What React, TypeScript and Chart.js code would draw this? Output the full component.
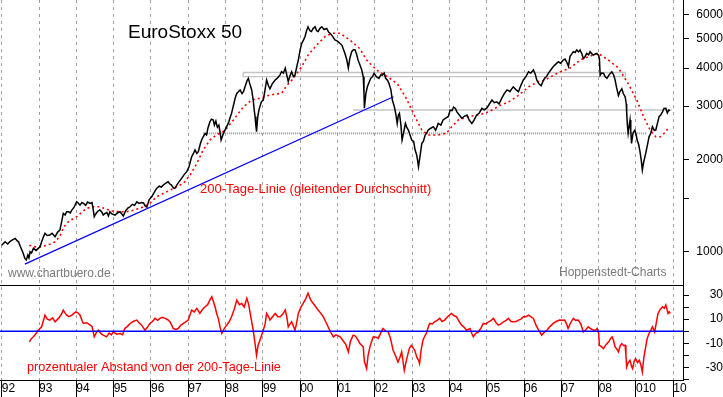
import React, { useEffect, useRef } from 'react';
import { Chart, registerables } from 'chart.js';

Chart.register(...registerables);

// ---------- data (x = decimal year) ----------
const PRICE: [number, number][] = [
  [1992.00, 1050], [1992.09, 1078], [1992.16, 1060], [1992.22, 1080], [1992.30, 1095], [1992.36, 1106],
  [1992.42, 1085], [1992.45, 1078], [1992.50, 1040], [1992.54, 1013], [1992.58, 985], [1992.62, 951],
  [1992.66, 940], [1992.70, 975], [1992.73, 955], [1992.76, 1000], [1992.80, 990], [1992.85, 1026],
  [1992.92, 1010], [1992.98, 1026], [1993.03, 1040], [1993.07, 1078], [1993.12, 1120], [1993.16, 1149],
  [1993.22, 1130], [1993.29, 1134], [1993.35, 1150], [1993.43, 1120], [1993.50, 1160], [1993.56, 1178],
  [1993.62, 1280], [1993.65, 1336], [1993.70, 1320], [1993.74, 1352], [1993.79, 1352], [1993.84, 1340],
  [1993.88, 1370], [1993.94, 1400], [1994.01, 1458], [1994.06, 1440], [1994.10, 1422], [1994.15, 1450],
  [1994.19, 1440], [1994.25, 1420], [1994.30, 1455], [1994.37, 1440], [1994.42, 1450], [1994.45, 1380],
  [1994.48, 1303], [1994.52, 1330], [1994.58, 1360], [1994.63, 1370], [1994.68, 1350], [1994.72, 1320],
  [1994.77, 1336], [1994.82, 1345], [1994.86, 1310], [1994.90, 1352], [1994.95, 1330], [1995.04, 1319],
  [1995.10, 1340], [1995.17, 1352], [1995.22, 1330], [1995.26, 1310], [1995.32, 1360], [1995.38, 1390],
  [1995.44, 1404], [1995.50, 1430], [1995.56, 1420], [1995.62, 1458], [1995.68, 1440], [1995.75, 1450],
  [1995.80, 1445], [1995.85, 1410], [1995.89, 1400], [1995.95, 1480], [1996.02, 1514], [1996.08, 1560],
  [1996.15, 1613], [1996.22, 1640], [1996.28, 1630], [1996.33, 1654], [1996.40, 1680], [1996.46, 1696],
  [1996.50, 1670], [1996.55, 1654], [1996.60, 1620], [1996.64, 1613], [1996.70, 1660], [1996.76, 1700],
  [1996.82, 1740], [1996.89, 1790], [1996.96, 1830], [1997.02, 1900], [1997.09, 2048], [1997.14, 2100],
  [1997.18, 2155], [1997.23, 2100], [1997.27, 2127], [1997.32, 2250], [1997.36, 2330], [1997.40, 2381],
  [1997.45, 2440], [1997.49, 2413], [1997.53, 2550], [1997.58, 2668], [1997.62, 2720], [1997.67, 2703],
  [1997.70, 2600], [1997.74, 2680], [1997.78, 2560], [1997.82, 2600], [1997.85, 2474], [1997.88, 2324],
  [1997.93, 2420], [1997.98, 2500], [1998.03, 2570], [1998.08, 2650], [1998.12, 2750], [1998.16, 2841],
  [1998.22, 3050], [1998.26, 3200], [1998.30, 3304], [1998.35, 3350], [1998.39, 3390], [1998.44, 3300],
  [1998.48, 3347], [1998.53, 3500], [1998.58, 3650], [1998.61, 3702], [1998.65, 3550], [1998.70, 3390],
  [1998.74, 3143], [1998.77, 2900], [1998.79, 2776], [1998.81, 2600], [1998.83, 2474], [1998.86, 2750],
  [1998.89, 2900], [1998.92, 2990], [1998.96, 3100], [1999.01, 3143], [1999.05, 3350], [1999.10, 3656],
  [1999.15, 3500], [1999.19, 3420], [1999.25, 3550], [1999.33, 3656], [1999.38, 3700], [1999.42, 3745],
  [1999.46, 3800], [1999.50, 3890], [1999.55, 3850], [1999.60, 4000], [1999.64, 3800], [1999.68, 3612],
  [1999.73, 3780], [1999.77, 3890], [1999.82, 3750], [1999.86, 3790], [1999.90, 4000], [1999.95, 4251],
  [2000.00, 4600], [2000.04, 4817], [2000.09, 4950], [2000.13, 5078], [2000.17, 5300], [2000.21, 5460],
  [2000.26, 5300], [2000.30, 5267], [2000.35, 5400], [2000.40, 5460], [2000.44, 5300], [2000.48, 5267],
  [2000.53, 5400], [2000.58, 5460], [2000.64, 5350], [2000.71, 5394], [2000.76, 5250], [2000.80, 5200],
  [2000.86, 5100], [2000.93, 4944], [2001.00, 4900], [2001.07, 4817], [2001.12, 4750], [2001.16, 4600],
  [2001.20, 4467], [2001.25, 4250], [2001.29, 4000], [2001.33, 4300], [2001.38, 4527], [2001.43, 4600],
  [2001.47, 4585], [2001.51, 4450], [2001.55, 4251], [2001.60, 4100], [2001.65, 3942], [2001.69, 3745],
  [2001.71, 3300], [2001.72, 2953], [2001.76, 3300], [2001.80, 3472], [2001.85, 3600], [2001.89, 3702],
  [2001.94, 3750], [2001.98, 3845], [2002.04, 3750], [2002.11, 3702], [2002.16, 3800], [2002.20, 3790],
  [2002.25, 3850], [2002.29, 3702], [2002.34, 3650], [2002.38, 3557], [2002.43, 3400], [2002.47, 3143],
  [2002.52, 3000], [2002.56, 2841], [2002.60, 2633], [2002.63, 2800], [2002.66, 2841], [2002.70, 2600],
  [2002.73, 2324], [2002.77, 2450], [2002.82, 2633], [2002.86, 2550], [2002.90, 2506], [2002.95, 2400],
  [2002.99, 2324], [2003.04, 2300], [2003.08, 2155], [2003.12, 2080], [2003.15, 1980], [2003.17, 1900],
  [2003.21, 2050], [2003.26, 2265], [2003.30, 2300], [2003.35, 2414], [2003.39, 2450], [2003.43, 2506],
  [2003.50, 2540], [2003.57, 2570], [2003.63, 2500], [2003.70, 2633], [2003.77, 2600], [2003.83, 2703],
  [2003.90, 2740], [2003.97, 2776], [2004.02, 2915], [2004.07, 2900], [2004.11, 2980], [2004.16, 2950],
  [2004.20, 2874], [2004.27, 2800], [2004.33, 2739], [2004.40, 2780], [2004.47, 2807], [2004.53, 2700],
  [2004.60, 2633], [2004.66, 2700], [2004.73, 2807], [2004.80, 2850], [2004.87, 2953], [2004.93, 2920],
  [2005.00, 2953], [2005.07, 3050], [2005.14, 3143], [2005.20, 3080], [2005.27, 3100], [2005.33, 3050],
  [2005.40, 3183], [2005.47, 3300], [2005.54, 3390], [2005.58, 3380], [2005.62, 3347], [2005.67, 3420],
  [2005.71, 3472], [2005.78, 3400], [2005.85, 3347], [2005.91, 3500], [2005.98, 3656], [2006.05, 3750],
  [2006.12, 3890], [2006.18, 3850], [2006.25, 3942], [2006.30, 3820], [2006.34, 3656], [2006.40, 3550],
  [2006.46, 3500], [2006.50, 3600], [2006.55, 3702], [2006.60, 3750], [2006.65, 3845], [2006.72, 3950],
  [2006.78, 4040], [2006.85, 4120], [2006.92, 4195], [2006.98, 4150], [2007.05, 4251], [2007.10, 4280],
  [2007.14, 4195], [2007.19, 4050], [2007.23, 4360], [2007.28, 4450], [2007.32, 4527], [2007.37, 4500],
  [2007.41, 4585], [2007.46, 4520], [2007.50, 4585], [2007.55, 4450], [2007.59, 4300], [2007.63, 4350],
  [2007.68, 4467], [2007.73, 4420], [2007.77, 4527], [2007.82, 4450], [2007.86, 4410], [2007.91, 4450],
  [2007.95, 4467], [2008.00, 4400], [2008.02, 4300], [2008.04, 3790], [2008.08, 3850], [2008.13, 3845],
  [2008.17, 3750], [2008.22, 3702], [2008.28, 3800], [2008.35, 3890], [2008.40, 3800], [2008.44, 3656],
  [2008.48, 3450], [2008.53, 3253], [2008.57, 3350], [2008.62, 3420], [2008.66, 3300], [2008.71, 3221],
  [2008.74, 3050], [2008.75, 2874], [2008.77, 2600], [2008.79, 2447], [2008.82, 2600], [2008.84, 2703],
  [2008.86, 2500], [2008.88, 2265], [2008.92, 2450], [2008.97, 2506], [2009.01, 2400], [2009.03, 2324],
  [2009.07, 2250], [2009.10, 2155], [2009.14, 2000], [2009.17, 1853], [2009.20, 1950], [2009.26, 2100],
  [2009.31, 2250], [2009.35, 2381], [2009.40, 2450], [2009.44, 2570], [2009.49, 2500], [2009.53, 2506],
  [2009.58, 2650], [2009.62, 2776], [2009.66, 2800], [2009.71, 2874], [2009.75, 2950], [2009.80, 2953],
  [2009.84, 2850], [2009.88, 2915], [2009.91, 2900],
];

const MA200: [number, number][] = [
  [1992.74, 1051], [1992.85, 1040], [1993.00, 1035], [1993.15, 1045], [1993.30, 1060], [1993.43, 1078],
  [1993.55, 1120], [1993.67, 1208], [1993.80, 1260], [1994.01, 1303], [1994.15, 1350], [1994.28, 1388],
  [1994.45, 1404], [1994.63, 1404], [1994.80, 1380], [1994.95, 1360], [1995.17, 1352], [1995.35, 1352],
  [1995.55, 1370], [1995.70, 1388], [1995.89, 1420], [1996.02, 1460], [1996.15, 1514], [1996.42, 1572],
  [1996.60, 1613], [1996.87, 1676], [1997.05, 1784], [1997.23, 1948], [1997.40, 2155], [1997.58, 2324],
  [1997.76, 2420], [1997.93, 2474], [1998.03, 2540], [1998.21, 2703], [1998.48, 2990], [1998.70, 3143],
  [1998.92, 3183], [1999.15, 3253], [1999.35, 3290], [1999.50, 3304], [1999.64, 3504], [1999.82, 3702],
  [2000.04, 4040], [2000.21, 4410], [2000.44, 4757], [2000.67, 5078], [2000.85, 5200], [2001.07, 5200],
  [2001.33, 4944], [2001.60, 4630], [2001.78, 4251], [2001.96, 4040], [2002.11, 3890], [2002.34, 3745],
  [2002.60, 3557], [2002.82, 3221], [2002.99, 2915], [2003.12, 2703], [2003.26, 2506], [2003.43, 2414],
  [2003.70, 2414], [2003.92, 2447], [2004.05, 2560], [2004.24, 2703], [2004.51, 2776], [2004.78, 2807],
  [2005.05, 2874], [2005.32, 3000], [2005.59, 3100], [2005.85, 3253], [2006.12, 3472], [2006.39, 3612],
  [2006.57, 3656], [2006.79, 3790], [2006.97, 3890], [2007.23, 4000], [2007.50, 4251], [2007.77, 4380],
  [2007.99, 4467], [2008.26, 4251], [2008.53, 4000], [2008.79, 3557], [2009.02, 3143], [2009.20, 2776],
  [2009.38, 2506], [2009.53, 2381], [2009.66, 2381], [2009.80, 2474], [2009.88, 2570],
];

const OSC: [number, number][] = [
  [1992.74, -8.9], [1992.80, -6], [1992.85, -4.7], [1992.92, -2], [1992.98, 0.8], [1993.07, 3.6],
  [1993.12, 9], [1993.16, 13.3], [1993.22, 10], [1993.29, 9.2], [1993.36, 11], [1993.43, 7.8],
  [1993.52, 10.6], [1993.60, 14], [1993.65, 17.5], [1993.70, 15], [1993.74, 13.3], [1993.80, 12],
  [1993.88, 13.3], [1993.94, 15], [1993.99, 16], [1994.05, 15], [1994.10, 13.3], [1994.15, 9],
  [1994.19, 6.4], [1994.28, 7], [1994.37, 5], [1994.42, 4], [1994.48, -4.7], [1994.54, -1],
  [1994.59, 0.8], [1994.66, -2], [1994.72, -3.3], [1994.81, -4.7], [1994.88, -1.5], [1994.94, -3],
  [1994.99, -0.6], [1995.08, -2.5], [1995.17, -1.9], [1995.24, -3], [1995.30, 2.2], [1995.37, 4],
  [1995.44, 6.4], [1995.52, 8], [1995.62, 9.2], [1995.68, 7], [1995.75, 5], [1995.84, 0.8],
  [1995.90, 3], [1995.97, 6.4], [1996.04, 8], [1996.11, 10.6], [1996.18, 9], [1996.24, 10.6],
  [1996.31, 11.5], [1996.38, 10.6], [1996.45, 9.5], [1996.51, 7.8], [1996.60, 2.2], [1996.67, 1.5],
  [1996.73, 2.2], [1996.80, 5], [1996.87, 6.4], [1996.94, 8], [1997.00, 9.2], [1997.09, 17.5],
  [1997.16, 16], [1997.23, 18.9], [1997.31, 14.7], [1997.38, 18], [1997.45, 20.3], [1997.52, 22],
  [1997.58, 26], [1997.63, 28.6], [1997.68, 24], [1997.72, 20], [1997.76, 14.7], [1997.81, 10],
  [1997.85, 3.6], [1997.90, -1.9], [1997.96, 2], [1998.03, 5], [1998.10, 8], [1998.16, 11.9],
  [1998.23, 18], [1998.30, 25.8], [1998.37, 22], [1998.43, 23], [1998.50, 20], [1998.57, 27.2],
  [1998.62, 22], [1998.66, 14.7], [1998.70, 8], [1998.74, 0.8], [1998.79, -10.3], [1998.83, -20],
  [1998.87, -12], [1998.92, -7.5], [1998.97, -3], [1999.01, 0.8], [1999.06, 6], [1999.10, 14.7],
  [1999.15, 12], [1999.19, 9.2], [1999.26, 12], [1999.33, 14.7], [1999.40, 12], [1999.46, 11.9],
  [1999.53, 14], [1999.60, 17.5], [1999.64, 12], [1999.68, 3.6], [1999.73, 6], [1999.77, 7.8],
  [1999.82, 4], [1999.86, 0.8], [1999.90, 6], [1999.95, 14.7], [2000.02, 20], [2000.08, 23],
  [2000.15, 27], [2000.21, 31.4], [2000.28, 26], [2000.35, 23], [2000.42, 20], [2000.48, 17.5],
  [2000.55, 15], [2000.62, 11.9], [2000.68, 8], [2000.75, 3.6], [2000.82, -1], [2000.89, -4.7],
  [2000.96, -3], [2001.07, -4.7], [2001.15, -8], [2001.22, -11], [2001.29, -17.2], [2001.35, -8],
  [2001.42, -3.3], [2001.48, -4], [2001.55, -7.5], [2001.60, -10.3], [2001.69, -13], [2001.72, -25],
  [2001.78, -31], [2001.82, -20], [2001.87, -13], [2001.92, -8], [2001.96, -4.7], [2002.03, -5],
  [2002.09, -6], [2002.15, -2], [2002.22, 2.2], [2002.29, 0], [2002.36, -0.6], [2002.42, -6],
  [2002.49, -15.8], [2002.55, -20], [2002.62, -25.6], [2002.67, -22], [2002.72, -17.2], [2002.76, -26],
  [2002.79, -32.5], [2002.84, -25], [2002.89, -18.6], [2002.93, -14], [2002.98, -11.7], [2003.03, -14],
  [2003.07, -15.8], [2003.13, -22], [2003.17, -24], [2003.20, -26.9], [2003.24, -16], [2003.29, -7.5],
  [2003.34, -4], [2003.38, -1.9], [2003.43, 3], [2003.47, 6.4], [2003.54, 6], [2003.60, 7.8],
  [2003.67, 9], [2003.74, 10.6], [2003.80, 8], [2003.87, 9.2], [2003.95, 12], [2004.05, 14.7],
  [2004.12, 13], [2004.19, 11.9], [2004.26, 8], [2004.33, 5], [2004.40, 3], [2004.46, 0.8],
  [2004.55, 2.2], [2004.60, -2], [2004.64, -4.7], [2004.70, -2], [2004.78, -0.6], [2004.85, 3],
  [2004.91, 6.4], [2004.98, 6], [2005.05, 7.8], [2005.12, 9], [2005.18, 10.6], [2005.25, 7],
  [2005.31, 5], [2005.38, 6], [2005.45, 7.8], [2005.52, 9], [2005.58, 10.6], [2005.65, 8],
  [2005.72, 7.8], [2005.79, 8], [2005.85, 9.2], [2005.92, 10], [2005.98, 11.9], [2006.05, 12],
  [2006.12, 13.3], [2006.18, 12], [2006.25, 10.6], [2006.32, 5], [2006.39, 0.8], [2006.43, -1],
  [2006.47, -3.3], [2006.54, -1], [2006.61, 0.8], [2006.70, 4], [2006.78, 6.4], [2006.86, 8],
  [2006.95, 9.2], [2007.02, 9], [2007.09, 9.2], [2007.14, 6], [2007.18, 2.2], [2007.25, 7],
  [2007.32, 10.6], [2007.38, 9], [2007.45, 9.2], [2007.52, 6], [2007.59, -0.6], [2007.65, 1],
  [2007.72, 3.6], [2007.79, 2], [2007.86, 0.8], [2007.92, 1], [2007.96, 2.2], [2008.00, -2],
  [2008.02, -11.7], [2008.08, -13], [2008.13, -14.4], [2008.20, -11], [2008.27, -8.9], [2008.32, -6],
  [2008.36, -4.7], [2008.40, -8], [2008.44, -13], [2008.49, -15], [2008.53, -17.2], [2008.58, -12],
  [2008.62, -10.3], [2008.67, -12], [2008.71, -11.7], [2008.73, -20], [2008.75, -29.7], [2008.79, -26],
  [2008.84, -24.2], [2008.88, -29], [2008.91, -31], [2008.95, -25], [2008.99, -22.8], [2009.04, -26],
  [2009.09, -24.2], [2009.13, -28], [2009.17, -33.9], [2009.21, -22], [2009.26, -13], [2009.30, -6],
  [2009.35, -1.9], [2009.40, 1], [2009.44, 3.6], [2009.50, -0.6], [2009.55, 8], [2009.59, 14.7],
  [2009.65, 18], [2009.71, 20.3], [2009.76, 19], [2009.80, 21.7], [2009.84, 17], [2009.86, 14.7],
  [2009.89, 16], [2009.92, 14.7],
];

const TREND_LINE: [number, number][] = [[1992.62, 911], [2002.50, 3221]];
const RESISTANCE_BAND: [number, number][] = [
  [1998.47, 3868], [2008.72, 3868], [2008.72, 3751], [1998.47, 3751], [1998.47, 3868],
];
const LEVEL_MID: [number, number][] = [[2001.42, 2915], [2009.96, 2915]];
const LEVEL_LOW: [number, number][] = [[1997.40, 2444], [2009.29, 2444]];
const ZERO_LINE: [number, number][] = [[1991.95, 0], [2010.26, 0]];

const X_RANGE = [1991.954, 2010.26];
const YEAR_TICKS = [1992, 1993, 1994, 1995, 1996, 1997, 1998, 1999, 2000, 2001,
  2002, 2003, 2004, 2005, 2006, 2007, 2008, 2009, 2010];
const YEAR_LABELS = ['92', '93', '94', '95', '96', '97', '98', '99', '00', '01',
  '02', '03', '04', '05', '06', '07', '08', '010', '10'];

const PRICE_RANGE = [778, 6686];
const PRICE_TICKS = [1000, 1500, 2000, 3000, 4000, 5000, 6000];
const PRICE_TICK_LABELS = ['1000', '', '2000', '3000', '4000', '5000', '6000'];

const OSC_RANGE = [-40.5, 38.3];
const OSC_TICKS = [-40, -30, -20, -10, 0, 10, 20, 30];
const OSC_TICK_LABELS = ['', '-30', '', '-10', '', '10', '', '30'];

const TITLE = 'EuroStoxx 50';
const MA_NOTE = '200-Tage-Linie (gleitender Durchschnitt)';
const OSC_NOTE = 'prozentualer Abstand von der 200-Tage-Linie';
const SOURCE_LEFT = 'www.chartbuero.de';
const SOURCE_RIGHT = 'Hoppenstedt-Charts';

const FONT = 'Arial, "Liberation Sans", sans-serif';

const pts = (a: [number, number][]) => a.map(([x, y]) => ({ x, y }));
const lookup = (keys: number[], labels: string[]) => {
  const m: Record<string, string> = {};
  keys.forEach((k, i) => { m[String(k)] = labels[i]; });
  return (v: any) => m[String(v)] ?? '';
};

export default function App() {
  const ref = useRef<HTMLCanvasElement | null>(null);

  useEffect(() => {
    const canvas = ref.current;
    if (!canvas) return;
    Chart.defaults.font.family = FONT;

    const zeroPad = (s: any) => {
      s.paddingLeft = 0; s.paddingRight = 0; s.paddingTop = 0; s.paddingBottom = 0;
    };

    const overlay = {
      id: 'overlay',
      afterDraw(chart: any) {
        const { ctx, chartArea } = chart;
        const y2 = chart.scales.y2;
        ctx.save();
        ctx.strokeStyle = '#000';
        ctx.lineWidth = 1;
        ctx.setLineDash([]);
        const sy = Math.round(y2.top) + 0.5;
        ctx.beginPath();
        ctx.moveTo(chartArea.left, sy);
        ctx.lineTo(chartArea.right, sy);
        ctx.stroke();

        ctx.textAlign = 'left';
        ctx.textBaseline = 'alphabetic';
        ctx.fillStyle = '#000';
        ctx.font = `19px ${FONT}`;
        ctx.fillText(TITLE, 128, 38);

        ctx.fillStyle = '#ff0000';
        ctx.font = `13px ${FONT}`;
        ctx.fillText(MA_NOTE, 200, 193);
        ctx.font = `12.7px ${FONT}`;
        ctx.fillText(OSC_NOTE, 27, 371);

        ctx.fillStyle = '#7a7a7a';
        ctx.font = `12px ${FONT}`;
        ctx.fillText(SOURCE_LEFT, 8, 277);
        ctx.fillText(SOURCE_RIGHT, 559, 276);
        ctx.restore();
      },
    };

    const line = (data: [number, number][], color: string, width: number, axis: string, dash: number[] = []) => ({
      data: pts(data),
      yAxisID: axis,
      xAxisID: 'x',
      borderColor: color,
      backgroundColor: color,
      borderWidth: width,
      borderDash: dash,
      pointRadius: 0,
      pointHoverRadius: 0,
      tension: 0,
      fill: false,
    });

    const chart = new Chart(canvas, {
      type: 'line',
      data: {
        datasets: [
          { label: 'EuroStoxx 50', ...line(PRICE, '#000000', 1.5, 'y') },
          { label: '200-Tage-Linie', ...line(MA200, '#ff0000', 1.6, 'y', [2, 3]) },
          { label: 'Trendlinie', ...line(TREND_LINE, '#0000ff', 1.2, 'y') },
          { label: 'Widerstand', ...line(RESISTANCE_BAND, '#c4c4c4', 1.3, 'y') },
          { label: 'Marke', ...line(LEVEL_MID, '#c4c4c4', 1.3, 'y') },
          { label: 'Unterstützung', ...line(LEVEL_LOW, '#9a9a9a', 2, 'y', [1, 1]) },
          { label: 'Nulllinie', ...line(ZERO_LINE, '#0000ff', 1.5, 'y2') },
          { label: 'Abstand', ...line(OSC, '#ff0000', 1.5, 'y2') },
        ],
      },
      options: {
        animation: false,
        responsive: false,
        maintainAspectRatio: false,
        devicePixelRatio: 1,
        events: [],
        layout: { padding: 0, autoPadding: false },
        plugins: {
          legend: { display: false },
          tooltip: { enabled: false },
          title: { display: false },
        },
        scales: {
          x: {
            type: 'linear',
            position: 'bottom',
            min: X_RANGE[0],
            max: X_RANGE[1],
            afterBuildTicks: (s: any) => { s.ticks = YEAR_TICKS.map((v) => ({ value: v })); },
            afterFit: (s: any) => { s.height = 17; zeroPad(s); },
            grid: {
              display: true,
              drawOnChartArea: true,
              drawTicks: true,
              color: '#a0a0a0',
              lineWidth: 1,
              borderDash: [3, 4],
              tickLength: 17,
              tickColor: '#000',
              tickWidth: 1,
              tickBorderDash: [],
            },
            border: { display: true, color: '#000', width: 1, dash: [3, 4] },
            ticks: {
              autoSkip: false,
              maxRotation: 0,
              minRotation: 0,
              align: 'start',
              padding: -16,
              color: '#000',
              font: { size: 12, family: FONT },
              callback: lookup(YEAR_TICKS, YEAR_LABELS),
            },
          },
          y: {
            type: 'logarithmic',
            position: 'right',
            stack: 'panels',
            stackWeight: 3,
            min: PRICE_RANGE[0],
            max: PRICE_RANGE[1],
            afterBuildTicks: (s: any) => { s.ticks = PRICE_TICKS.map((v) => ({ value: v })); },
            afterFit: (s: any) => { s.width = 40; zeroPad(s); },
            grid: { display: true, drawOnChartArea: false, drawTicks: true, tickLength: 6, color: '#000', tickColor: '#000' },
            border: { display: true, color: '#000', width: 1 },
            ticks: {
              autoSkip: false,
              crossAlign: 'far',
              padding: 3,
              color: '#000',
              font: { size: 12, family: FONT },
              callback: lookup(PRICE_TICKS, PRICE_TICK_LABELS),
            },
          },
          y2: {
            type: 'linear',
            position: 'right',
            stack: 'panels',
            stackWeight: 1,
            min: OSC_RANGE[0],
            max: OSC_RANGE[1],
            afterBuildTicks: (s: any) => { s.ticks = OSC_TICKS.map((v) => ({ value: v })); },
            afterFit: (s: any) => { s.width = 40; zeroPad(s); },
            grid: { display: true, drawOnChartArea: false, drawTicks: true, tickLength: 6, color: '#000', tickColor: '#000' },
            border: { display: true, color: '#000', width: 1 },
            ticks: {
              autoSkip: false,
              crossAlign: 'far',
              padding: 13,
              color: '#000',
              font: { size: 12, family: FONT },
              callback: lookup(OSC_TICKS, OSC_TICK_LABELS),
            },
          },
        },
      } as any,
      plugins: [overlay],
    });

    return () => chart.destroy();
  }, []);

  return (
    <div style={{ position: 'fixed', left: 0, top: 0, width: 723, height: 397, background: '#fff' }}>
      <canvas ref={ref} width={723} height={397} style={{ display: 'block', width: 723, height: 397 }} />
    </div>
  );
}
